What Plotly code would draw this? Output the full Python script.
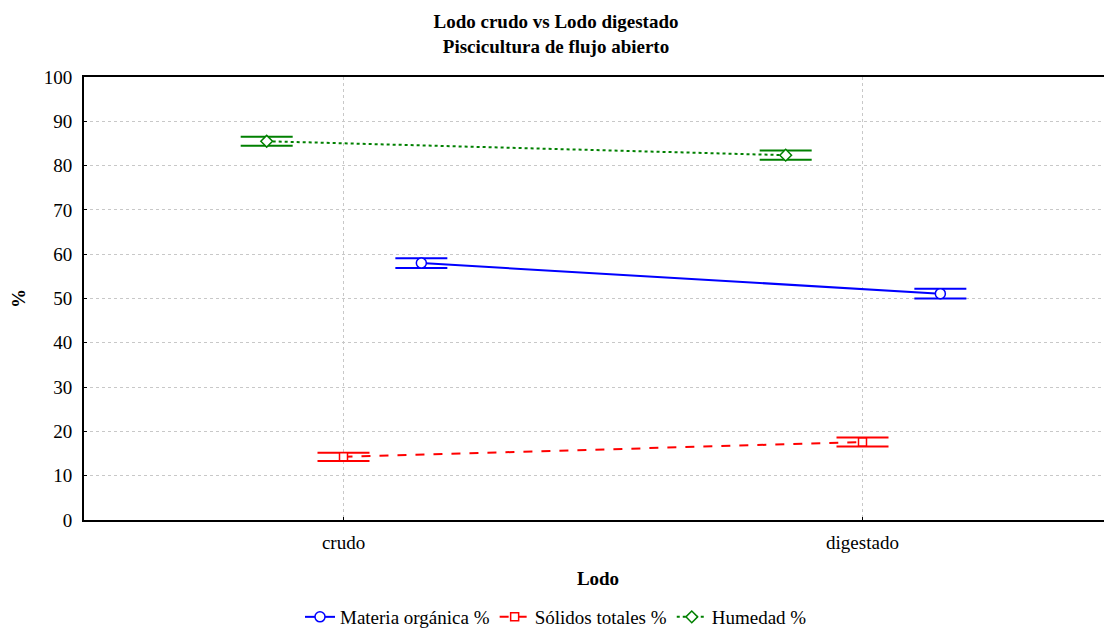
import plotly.graph_objects as go

categories = ["crudo", "digestado"]
materia = [58.0, 51.1]
materia_err = [1.1, 1.1]
solidos = [14.25, 17.6]
solidos_err = [0.95, 1.0]
humedad = [85.5, 82.35]
humedad_err = [1.0, 1.05]
y_ticks = [0, 10, 20, 30, 40, 50, 60, 70, 80, 90, 100]

FONT = "Liberation Serif"
idx = list(range(len(categories)))

W, H = 1104, 620
L, T, B = 76, 69, 108
PW, PH = W - L, H - T - B

def trace(name, vals, errs, offset, color, dash, symbol, msize, rank):
    return go.Scatter(
        x=[i + offset for i in idx], y=vals, name=name,
        mode="lines+markers",
        line=dict(color=color, width=2, dash=dash),
        marker=dict(symbol=symbol, size=msize, color="white",
                    line=dict(color=color, width=1.5)),
        error_y=dict(type="data", array=errs, visible=True, color=color,
                     thickness=2, width=26),
        legendrank=rank,
    )

fig = go.Figure()
fig.add_trace(trace("Humedad %", humedad, humedad_err, -0.148, "#008000", "dot", "diamond", 9, 3))
fig.add_trace(trace("Sólidos totales %", solidos, solidos_err, 0.0, "#FF0000", "dash", "square", 8, 2))
fig.add_trace(trace("Materia orgánica %", materia, materia_err, 0.15, "#0000FF", "solid", "circle", 10, 1))

fig.update_layout(
    width=W, height=H,
    margin=dict(l=L, r=0, t=T, b=B, autoexpand=False),
    paper_bgcolor="white", plot_bgcolor="white",
    font=dict(family=FONT, size=19, color="black"),
    title=dict(text="<b>Lodo crudo vs Lodo digestado<br>Piscicultura de flujo abierto</b>",
               x=548 / W, xanchor="center", xref="container", y=1 - 20 / H, yanchor="middle",
               yref="container", font=dict(family=FONT, size=19)),
    showlegend=True,
    legend=dict(orientation="h", x=(548 - L) / PW, xanchor="center",
                y=-(609 - (T + PH)) / PH, yanchor="middle",
                font=dict(family=FONT, size=19), traceorder="normal"),
)
fig.update_xaxes(
    range=[-0.5, -0.5 + PW / 519], tickvals=idx, ticktext=categories, automargin=False,
    showline=True, linecolor="black", linewidth=2, mirror=True,
    ticks="inside", ticklen=3, tickcolor="black", ticklabelstandoff=4,
    showgrid=True, gridcolor="#c8c8c8", griddash="dot", gridwidth=1,
    zeroline=False,
    title=dict(text="<b>Lodo</b>", font=dict(family=FONT, size=19), standoff=20),
)
fig.update_yaxes(
    range=[0, 100], tickvals=y_ticks, automargin=False,
    showline=True, linecolor="black", linewidth=2, mirror=False,
    ticks="inside", ticklen=3, tickcolor="black", ticklabelstandoff=6,
    showgrid=True, gridcolor="#c8c8c8", griddash="dot", gridwidth=1,
    zeroline=False,
    title=dict(text="<b>%</b>", font=dict(family=FONT, size=19), standoff=22),
)
fig.write_html("out.html")
